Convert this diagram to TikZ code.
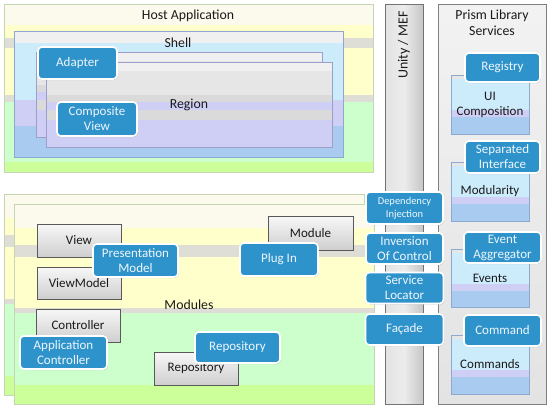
\documentclass[tikz,border=0pt]{standalone}
\usepackage{fontspec}
\setmainfont{Carlito}
\usetikzlibrary{calc,shadows}
\definecolor{cream}{HTML}{FCFAEC}
\definecolor{pyel}{HTML}{FFFFCC}
\definecolor{bandgray}{HTML}{DEDED6}
\definecolor{pgreen}{HTML}{CCFFCC}
\definecolor{lime}{HTML}{CCFF99}
\definecolor{lblue}{HTML}{CCEBFB}
\definecolor{lpurp}{HTML}{CFCFF6}
\definecolor{mblue}{HTML}{A9CBF0}
\definecolor{rg1}{HTML}{F0F0F0}
\definecolor{rg2}{HTML}{E6E6E6}
\definecolor{rg3}{HTML}{DADADA}
\definecolor{sg}{HTML}{E6E6E6}
\definecolor{nodeblue}{RGB}{47,147,203}
\definecolor{greenedge}{HTML}{C5D6B5}
\definecolor{blueedge}{HTML}{8FA8D0}
\definecolor{purpedge}{HTML}{9E9ECC}
\definecolor{txt}{HTML}{1A1A1A}
\tikzset{
  bands/.style={path picture={
    \foreach \a/\b/\c in {#1} {
      \fill[\c] ($(path picture bounding box.north west)!\a!(path picture bounding box.south west)$) rectangle ($(path picture bounding box.north east)!\b!(path picture bounding box.south east)$);
    }}},
  box/.style={inner sep=0pt},
  bluenode/.style={rounded corners=4pt, fill=nodeblue, draw=white, line width=1.6pt, text=white!92!nodeblue, align=center, inner sep=0pt, font=\fontsize{13}{15}\selectfont, drop shadow={opacity=0.35, shadow xshift=0.8pt, shadow yshift=-1pt}},
  graynode/.style={draw=black!65, line width=0.7pt, top color=gray!6, bottom color=gray!38, inner sep=0pt, text=txt, font=\fontsize{13}{15}\selectfont, drop shadow={opacity=0.3, shadow xshift=1pt, shadow yshift=-1pt}},
  lbl/.style={inner sep=0pt, align=center, text=txt, font=\fontsize{13.8}{16}\selectfont},
  greenbox/.style={box, draw=greenedge, line width=0.8pt, bands={0/0.125/cream, 0.125/0.2/pyel, 0.2/0.26/bandgray, 0.26/0.54/pyel, 0.54/0.585/bandgray, 0.585/0.94/pgreen, 0.94/1/lime}},
  modbox/.style={box, draw=greenedge, line width=0.8pt, bands={0/0.12/cream, 0.12/0.205/pyel, 0.205/0.265/bandgray, 0.265/0.52/pyel, 0.52/0.545/bandgray, 0.545/0.905/pgreen, 0.905/1/lime}},
  regionbox/.style={box, draw=purpedge, line width=0.8pt, bands={0/0.1/rg1, 0.1/0.39/rg2, 0.39/0.47/rg3, 0.47/0.56/lpurp, 0.56/0.68/rg3, 0.68/1/lpurp}, drop shadow={opacity=0.2, shadow xshift=1pt, shadow yshift=-1pt}},
  svcbox/.style={box, draw=blueedge, line width=0.8pt, bands={0/0.07/sg, 0.07/0.6/lblue, 0.6/0.72/lpurp, 0.72/1/mblue}, align=center, text=txt, font=\fontsize{13}{15}\selectfont},
}
\begin{document}
\begin{tikzpicture}[x=1pt,y=-1pt]
\useasboundingbox (0,0) rectangle (551,410);
\fill[white] (0,0) rectangle (551,410);
% Host application
\node[greenbox, minimum width=369pt, minimum height=168pt] (host) at (188.5,88) {};
\node[lbl] (hostl) at (188,16) {Host Application};
\node[box, draw=blueedge, line width=0.8pt, minimum width=329pt, minimum height=126pt, bands={0/0.095/rg1, 0.095/0.55/lblue, 0.55/0.75/lpurp, 0.75/1/mblue}] (shell) at (178.5,94) {};
\node[lbl] (shelll) at (178,43) {Shell};
\node[regionbox, minimum width=286pt, minimum height=85pt] (regb) at (179,94.5) {};
\node[regionbox, minimum width=286pt, minimum height=85pt] (regf) at (189,104.5) {};
\node[lbl] (regl) at (189,105) {Region};
\node[bluenode, minimum width=79pt, minimum height=32pt] (adapter) at (77.5,63) {Adapter};
\node[bluenode, minimum width=80pt, minimum height=34pt] (comp) at (97,119) {Composite\\View};
% Modules
\node[modbox, minimum width=360pt, minimum height=201pt] (modb) at (184,294.5) {};
\node[modbox, minimum width=360pt, minimum height=200pt] (modf) at (194,304) {};
\node[lbl] (modl) at (189,305) {Modules};
\node[graynode, minimum width=84pt, minimum height=33pt] (view) at (79,240.5) {View};
\node[graynode, minimum width=84pt, minimum height=32pt] (vm) at (79,283) {ViewModel};
\node[bluenode, minimum width=85pt, minimum height=33pt] (pm) at (135.5,260.5) {Presentation\\Model};
\node[graynode, minimum width=84pt, minimum height=33pt] (ctrl) at (78,325.5) {Controller};
\node[bluenode, minimum width=87pt, minimum height=33pt] (ac) at (63.5,352.5) {Application\\Controller};
\node[graynode, minimum width=84pt, minimum height=33pt] (repg) at (196,368.5) {Repository};
\node[bluenode, minimum width=85pt, minimum height=31pt] (repb) at (237.5,347.5) {Repository};
\node[graynode, minimum width=85pt, minimum height=34pt] (module) at (310.5,233) {Module};
\node[bluenode, minimum width=78pt, minimum height=33pt] (plugin) at (279,259.5) {Plug In};
% Unity / MEF bar
\node[box, draw=black!55, line width=0.8pt, left color=gray!22, right color=gray!45, middle color=gray!15, minimum width=38pt, minimum height=400pt] (unity) at (404,204) {};
\node[lbl, rotate=90, font=\fontsize{14}{16}\selectfont] (unityl) at (404,45) {Unity / MEF};
% Prism library services
\node[box, draw=black!50, line width=0.8pt, top color=gray!10, bottom color=gray!22, minimum width=108pt, minimum height=400pt] (prism) at (492,204) {};
\node[lbl] (prisml) at (492,23) {Prism Library\\Services};
\node[svcbox, minimum width=78pt, minimum height=59pt] (uic) at (490,104.5) {UI\\Composition};
\node[bluenode, minimum width=75pt, minimum height=29pt] (reg) at (502.5,67.5) {Registry};
\node[svcbox, minimum width=78pt, minimum height=59pt] (modu) at (490,191.5) {Modularity};
\node[bluenode, minimum width=75pt, minimum height=32pt] (sep) at (502.5,157) {Separated\\Interface};
\node[svcbox, minimum width=78pt, minimum height=58pt] (events) at (490,278) {Events};
\node[bluenode, minimum width=77pt, minimum height=31pt] (ea) at (502.5,247.5) {Event\\Aggregator};
\node[svcbox, minimum width=78pt, minimum height=59pt] (cmds) at (490,364.5) {Commands};
\node[bluenode, minimum width=77pt, minimum height=31pt] (cmd) at (502.5,330.5) {Command};
% bar nodes
\node[bluenode, minimum width=77pt, minimum height=32pt, font=\fontsize{10.5}{12.5}\selectfont] (di) at (404.5,208) {Dependency\\Injection};
\node[bluenode, minimum width=77pt, minimum height=31pt] (ioc) at (404.5,248.5) {Inversion\\Of Control};
\node[bluenode, minimum width=78pt, minimum height=31pt] (sl) at (404.5,288) {Service\\Locator};
\node[bluenode, minimum width=78pt, minimum height=31pt] (fac) at (404.5,329.5) {Façade};
\end{tikzpicture}
\end{document}
